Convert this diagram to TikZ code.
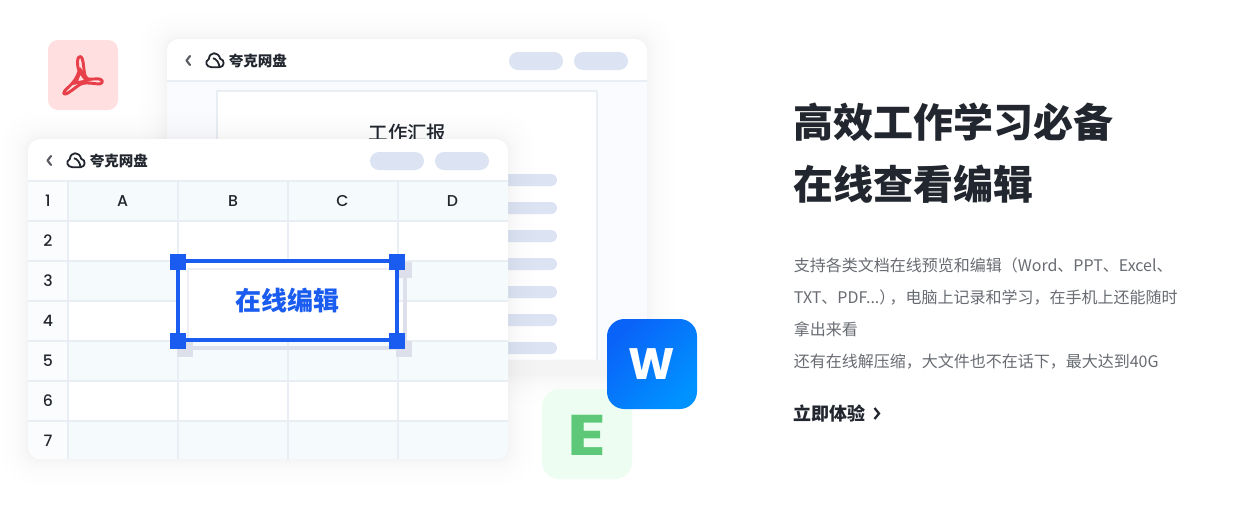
\documentclass[tikz,border=0pt]{standalone}
\usepackage{fontspec}
\newfontfamily\cjk{Noto Sans CJK SC}
\newfontfamily\cjkmed{Noto Sans CJK SC Medium}
\newfontfamily\lat{Poppins}
\newfontfamily\latmed{Poppins Medium}
\definecolor{ink}{HTML}{22262E}
\definecolor{bodyink}{HTML}{686C72}
\definecolor{pill}{HTML}{DCE4F4}
\definecolor{gridline}{HTML}{E9EDF4}
\definecolor{rowtint}{HTML}{F5FAFC}
\definecolor{numtint}{HTML}{FBFCFD}
\definecolor{winbody}{HTML}{FAFBFE}
\definecolor{selblue}{HTML}{1A5CF0}
\definecolor{selshadow}{HTML}{DDE0EA}
\definecolor{shadowc}{HTML}{7F88A5}
\definecolor{pdftile}{HTML}{FFDFDF}
\definecolor{pdfred}{HTML}{E8404A}
\definecolor{xltile}{HTML}{EDFDF1}
\definecolor{xlgreen}{HTML}{5CC878}
\definecolor{wordA}{HTML}{0A63F8}
\definecolor{wordB}{HTML}{0092FF}
\newcommand{\softshadow}[4]{%
  \foreach \s in {28,22,17,13,10,8,6,4,3,2,1}{%
    \pgfmathsetmacro{\rr}{(12+\s)*0.75}%
    \fill[shadowc,opacity=0.0055,rounded corners=\rr pt]
      ({#1-\s},{#2-\s}) rectangle ({#3+\s},{#4+\s});
  }}
\newcommand{\apphead}[3]{% x-shift, y-shift, name
  \begin{scope}[shift={(#1,#2)}]
    \draw[chev] (190,56) -- (186.5,60.5) -- (190,65);
    \draw[cloudline] (211.5,67.2) -- (219.5,67.2)
       .. controls (224.8,67.2) and (225,59.5) .. (220.2,58.8)
       .. controls (218.5,51.3) and (209.5,51.3) .. (208.8,59.2)
       .. controls (204.5,61) and (206,67.2) .. (211.5,67.2);
    \draw[cloudline] (213,58.2) .. controls (216.5,59) and (219,62.5) .. (219.5,67.2);
    \node[apptitle,anchor=west] (#3) at (228.5,60.5) {夸克网盘};
    \fill[pill] (509,52) [rounded corners=6.7pt] rectangle (563,70);
    \fill[pill] (574,52) [rounded corners=6.7pt] rectangle (628,70);
  \end{scope}}
\tikzset{
  chev/.style={draw=ink!75,line width=1.6pt,line cap=round,line join=round},
  cloudline/.style={draw=ink,line width=1.35pt,line join=round},
  apptitle/.style={font=\cjk\bfseries\fontsize{10.9}{11}\selectfont,text=ink,inner sep=0pt},
  cell/.style={font=\latmed\fontsize{11.8}{12}\selectfont,text=ink,inner sep=0pt},
  grid/.style={draw=gridline,line width=1.2pt},
  titletext/.style={font=\cjk\bfseries\fontsize{30}{30}\selectfont,text=ink,inner sep=0pt,anchor=base west},
  bodytext/.style={font=\cjk\fontsize{12}{12}\selectfont,text=bodyink,inner sep=0pt,anchor=base west},
  linktext/.style={font=\cjk\bfseries\fontsize{13.5}{14}\selectfont,text=ink,inner sep=0pt,anchor=base west},
  handle/.style={fill=selblue},
}
\begin{document}
\begin{tikzpicture}[x=0.75pt,y=-0.75pt]
\useasboundingbox (0,0) rectangle (1237,504);
\fill[white] (0,0) rectangle (1237,504);

% back window
\softshadow{167}{39}{647}{375}
\fill[winbody] (167,360) [rounded corners=9pt] -- (167,39) -- (647,39) [sharp corners] -- (647,360) -- cycle;
\fill[white] (167,81) [rounded corners=9pt] -- (167,39) -- (647,39) [sharp corners] -- (647,81) -- cycle;
\draw[gridline,line width=1.2pt] (167,81) -- (647,81);
\apphead{0}{0}{backtitle}
\fill[white] (217,91) rectangle (597,359);
\draw[gridline,line width=1pt] (597,360) -- (597,91) -- (217,91) -- (217,360);
\node[font=\cjkmed\fontsize{14.6}{15}\selectfont,text=ink,inner sep=0pt] (doctitle) at (407.5,133.5) {工作汇报};
\foreach \y in {180,208,...,348}
  \fill[pill,rounded corners=4.5pt] (257,{\y-6}) rectangle (557,{\y+6});

% pdf tile
\fill[pdftile,rounded corners=7.5pt] (48,40) rectangle (118,110);
\draw[pdfred,line width=2.2pt,line join=round]
  (80,56.5) .. controls (76.5,56.5) and (77,66) .. (79,71)
  .. controls (76,82) and (68,87) .. (65,90.5)
  .. controls (62,95) and (65,94.5) .. (68,93)
  .. controls (73,90) and (78,85) .. (82,83.5)
  .. controls (88,82) and (95,84) .. (99.5,84)
  .. controls (104,83) and (103,79) .. (98,78.8)
  .. controls (93,78.8) and (89,80) .. (86,78)
  .. controls (83,74) and (84.5,56.5) .. (80,56.5) -- cycle;
\fill[pdfred,line join=round,even odd rule] (80,67) -- (73,85) -- (91,81) -- cycle
  (80.5,75) -- (78,81) -- (84,80) -- cycle;

% front window
\softshadow{28}{139}{508}{459}
\fill[white,rounded corners=9pt] (28,139) rectangle (508,459);
\apphead{-139}{100}{fronttitle}
\begin{scope}
  \clip[rounded corners=9pt] (28,139) rectangle (508,459);
  \fill[numtint] (28,181) rectangle (68,460);
  \foreach \y in {181,261,341,421}
    \fill[rowtint] (68,\y) rectangle (508,{\y+40});
  \foreach \y in {181,221,...,421}
    \draw[grid] (28,\y) -- (508,\y);
  \foreach \x in {68,178,288,398}
    \draw[grid] (\x,181) -- (\x,460);
\end{scope}
\foreach \t/\y/\n in {1/201/r1,2/241/r2,3/281/r3,4/321/r4,5/361/r5,6/401/r6,7/441/r7}
  \node[cell] (\n) at (48,\y) {\t};
\node[cell] (colA) at (122.5,201) {A};
\node[cell] (colB) at (233,201) {B};
\node[cell] (colC) at (342.5,201) {C};
\node[cell] (colD) at (452.5,201) {D};

% selection
\fill[white] (178,261) rectangle (397,340);
\draw[selshadow,line width=3pt] (186,269) rectangle (405,348);
\foreach \x/\y in {178/262,397/262,178/341,397/341}
  \fill[selshadow] ({\x-1},{\y}) rectangle ({\x+15},{\y+16});
\fill[white] (180,263) rectangle (395,338);
\draw[selshadow!55,line width=2pt] (188,269) -- (395,269);
\draw[selshadow!55,line width=2pt] (188,269) -- (188,338);
\draw[selblue,line width=3pt] (178,261) rectangle (397,340);
\foreach \x/\y in {178/262,397/262,178/341,397/341}
  \fill[handle] ({\x-8},{\y-8}) rectangle ({\x+8},{\y+8});
\node[font=\cjk\bfseries\fontsize{19.5}{20}\selectfont,text=selblue,inner sep=0pt] (seltext) at (287.5,301) {在线编辑};

% word + excel tiles
\fill[xltile,rounded corners=13pt] (542,389) rectangle (632,479);
\node[font=\lat\bfseries\fontsize{43}{43}\selectfont,text=xlgreen,inner sep=0pt,xscale=1.25] (xlE) at (586.5,435) {E};
\shade[rounded corners=13pt,top color=wordA,bottom color=wordB,shading angle=45] (607,319) rectangle (697,409);
\node[font=\lat\bfseries\fontsize{33}{33}\selectfont,text=white,inner sep=0pt] (wordW) at (652,364) {W};

% right column
\node[titletext] (t1) at (793.5,137) {高效工作学习必备};
\node[titletext] (t2) at (793.5,199) {在线查看编辑};
\node[bodytext] (b1) at (793.5,271) {支持各类文档在线预览和编辑（Word、PPT、Excel、};
\node[bodytext] (b2) at (793.5,303) {TXT、PDF...）\kern-4.4pt，电脑上记录和学习，在手机上还能随时};
\node[bodytext] (b3) at (793.5,335) {拿出来看};
\node[bodytext] (b4) at (793.5,367) {还有在线解压缩，大文件也不在话下，最大达到40G};
\node[linktext] (link) at (793.5,420) {立即体验};
\draw[ink,line width=1.7pt,line join=miter] (874.5,408) -- (879,413.5) -- (874.5,419);
\end{tikzpicture}
\end{document}
